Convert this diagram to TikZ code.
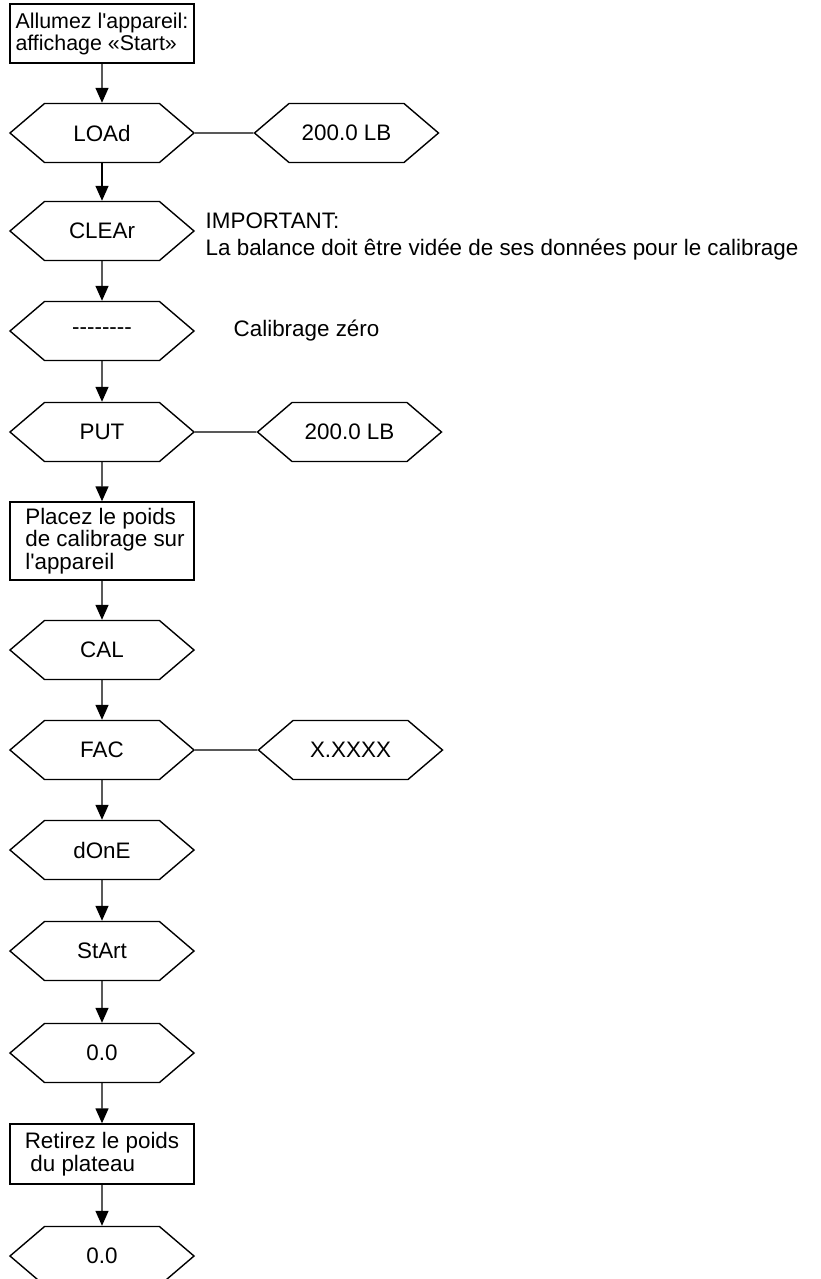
\documentclass[tikz,border=0pt]{standalone}
\usepackage{fontspec}
\setmainfont{Liberation Sans}
\usetikzlibrary{arrows.meta, shapes.symbols}
\tikzset{
  every picture/.style={x=0.5pt, y=-0.5pt, line width=0.7pt},
  every node/.style={font=\fontsize{11.2}{11.2}\selectfont},
  disp/.style={draw, signal, signal to=west and east, signal pointer angle=81, minimum width=92pt, minimum height=29.5pt, inner sep=0pt},
  stepbox/.style={draw, rectangle, align=left, minimum width=92pt, inner xsep=0.5pt, inner ysep=2.5pt},
  arrow/.style={-{Triangle[length=7.5pt, width=6.5pt]}},
  note/.style={anchor=west, align=left, inner sep=0pt},
}
\begin{document}
\begin{tikzpicture}
  \useasboundingbox (0,0) rectangle (820,1279);
  \node[stepbox, minimum height=29.5pt, font=\fontsize{10.7}{11}\selectfont] (on) at (102,33.5) {Allumez l\textquotesingle appareil:\\ affichage «Start»};
  \node[disp] (load) at (102,133) {LOAd};
  \node[disp] (loadval) at (346.5,133) {200.0 LB};
  \node[disp] (clear) at (102,231) {CLEAr};
  \node[note, font=\fontsize{11.2}{13.5}\selectfont] (important) at (205,237) {IMPORTANT:\\ La balance doit être vidée de ses données pour le calibrage};
  \node[disp] (dashes) at (102,331) {-{}-{}-{}-{}-{}-{}-{}-};
  \node[note] (zero) at (233,331) {Calibrage zéro};
  \node[disp] (put) at (102,432) {PUT};
  \node[disp] (putval) at (349.5,432) {200.0 LB};
  \node[stepbox, minimum height=39pt] (place) at (102,541) {\hspace*{3pt}Placez le poids\\ \hspace*{3pt}de calibrage sur\\ \hspace*{3pt}l\textquotesingle appareil};
  \node[disp] (cal) at (102,650) {CAL};
  \node[disp] (fac) at (102,750) {FAC};
  \node[disp] (facval) at (350.5,750) {X.XXXX};
  \node[disp] (done) at (102,850) {dOnE};
  \node[disp] (restart) at (102,951) {StArt};
  \node[disp] (zeroa) at (102,1053) {0.0};
  \node[stepbox, minimum height=30pt] (remove) at (102,1154) {Retirez le poids\\ \hspace*{0.25em}du plateau};
  \node[disp] (zerob) at (102,1256) {0.0};
  % main flow
  \draw[arrow] (on) -- (load);
  \draw[arrow] (load) -- (clear);
  \draw[arrow] (clear) -- (dashes);
  \draw[arrow] (dashes) -- (put);
  \draw[arrow] (put) -- (place);
  \draw[arrow] (place) -- (cal);
  \draw[arrow] (cal) -- (fac);
  \draw[arrow] (fac) -- (done);
  \draw[arrow] (done) -- (restart);
  \draw[arrow] (restart) -- (zeroa);
  \draw[arrow] (zeroa) -- (remove);
  \draw[arrow] (remove) -- (zerob);
  % values shown beside
  \draw (load) -- (loadval);
  \draw (put) -- (putval);
  \draw (fac) -- (facval);
\end{tikzpicture}
\end{document}
